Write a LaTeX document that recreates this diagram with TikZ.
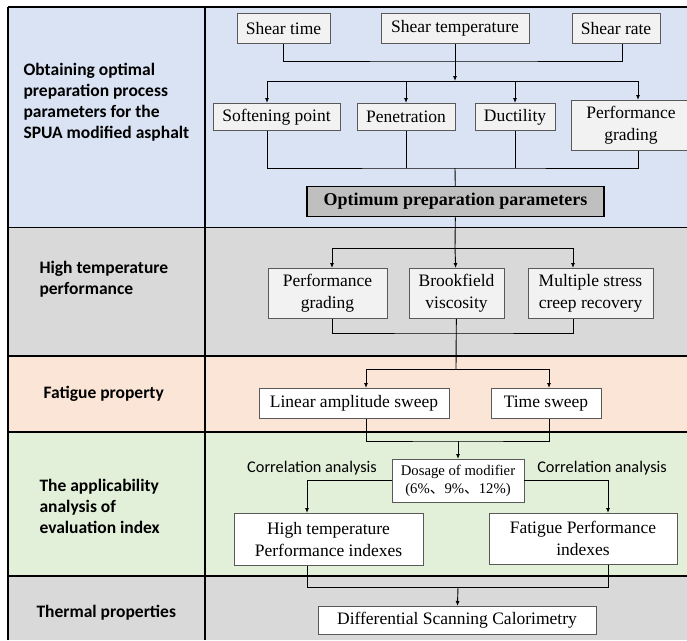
\documentclass[tikz,border=0pt]{standalone}
\usepackage{fontspec}
\setmainfont{Liberation Serif}
\setsansfont{Carlito}
\newfontfamily\cjk{Noto Sans CJK SC}
\usetikzlibrary{arrows.meta}
\definecolor{rowblue}{HTML}{DAE3F3}
\definecolor{rowgray}{HTML}{D9D9D9}
\definecolor{rowpeach}{HTML}{FBE5D6}
\definecolor{rowgreen}{HTML}{E2F0D9}
\definecolor{boxgray}{HTML}{F2F2F2}
\begin{document}
\begin{tikzpicture}[x=1pt,y=-1pt,
     box/.style={draw=black!65,line width=0.8pt,fill=white,anchor=north,align=center,inner sep=1pt,
       font=\fontsize{17.5}{22}\selectfont},
     lbox/.style={box,fill=boxgray},
     rowlabel/.style={anchor=west,align=left,font=\sffamily\bfseries\fontsize{17.5}{21}\selectfont},
     note/.style={font=\sffamily\fontsize{16.3}{18}\selectfont},
     link/.style={line width=0.9pt},
     >={Latex[length=5pt,width=4pt]}]
     \useasboundingbox (0,0) rectangle (687,640);
     \fill[rowblue] (8,7) rectangle (687,227.5);
     \fill[rowgray] (8,227.5) rectangle (687,356);
     \fill[rowpeach] (8,356) rectangle (687,432);
     \fill[rowgreen] (8,432) rectangle (687,576);
     \fill[rowgray] (8,576) rectangle (687,640);
     \node[rowlabel] (r1) at (20,102)
       {Obtaining optimal\\preparation process\\parameters for the\\SPUA modified asphalt};
     \node[rowlabel] (r2) at (36,279) {High temperature\\performance};
     \node[rowlabel] (r3) at (40,394) {Fatigue property};
     \node[rowlabel] (r4) at (36,506) {The applicability\\analysis of\\evaluation index};
     \node[rowlabel] (r5) at (33,613) {Thermal properties};
     \node[lbox,minimum width=93pt,minimum height=30pt] (st) at (283.5,13) {Shear time};
     \node[lbox,minimum width=148pt,minimum height=30pt] (stp) at (455,13) {Shear temperature};
     \node[lbox,minimum width=88pt,minimum height=30pt] (sr) at (616,13) {Shear rate};
     \node[lbox,minimum width=127pt,minimum height=27pt] (sp) at (276.5,103) {Softening point};
     \node[lbox,minimum width=98pt,minimum height=27pt] (pen) at (406,103) {Penetration};
     \node[lbox,minimum width=80pt,minimum height=27pt] (duc) at (515,103) {Ductility};
     \node[lbox,minimum width=120pt,minimum height=50pt] (pg1) at (631,100) {Performance\\grading};
     \node[box,fill=black!25,line width=1.3pt,draw=black,minimum width=297pt,minimum height=30pt,
       font=\bfseries\fontsize{18}{20}\selectfont] (opt) at (455.5,186) {Optimum preparation parameters};
     \node[lbox,minimum width=119pt,minimum height=50pt] (pg2) at (327.5,268) {Performance\\grading};
     \node[lbox,minimum width=95pt,minimum height=50pt] (bv) at (456.5,268) {Brookfield\\viscosity};
     \node[lbox,minimum width=125pt,minimum height=50pt] (ms) at (590.5,268) {Multiple stress\\creep recovery};
     \node[box,minimum width=190pt,minimum height=30pt] (las) at (354,388) {Linear amplitude sweep};
     \node[box,minimum width=110pt,minimum height=30pt] (ts) at (546,388) {Time sweep};
     \node[box,minimum width=132pt,minimum height=43pt,font=\fontsize{14.7}{18}\selectfont] (dos) at (458,459)
       {Dosage of modifier\\(6\%{\cjk 、}9\%{\cjk 、}12\%)};
     \node[box,minimum width=189pt,minimum height=52pt] (hti) at (328.5,513) {High temperature\\Performance indexes};
     \node[box,minimum width=188pt,minimum height=51pt] (fpi) at (583,513) {Fatigue Performance\\indexes};
     \node[box,minimum width=278pt,minimum height=28pt] (dsc) at (457,606) {Differential Scanning Calorimetry};
     \node[note] (ca1) at (312,468) {Correlation analysis};
     \node[note] (ca2) at (602,468) {Correlation analysis};
     \foreach \y in {7,227.5,356,432,576}
       \draw[line width=1.4pt] (8,\y) -- (687,\y);
     \foreach \x in {8,205}
       \draw[line width=1.4pt] (\x,7) -- (\x,640);
     \coordinate (j1) at (455,61);
     \coordinate (j2) at (455,81);
     \coordinate (j3) at (455,168);
     \coordinate (j4) at (455,248);
     \coordinate (j5) at (455,333);
     \coordinate (j6) at (456,369);
     \coordinate (j7) at (458,441);
     \coordinate (j8) at (458,587);
     \draw[link] (st) |- (j1) -| ([xshift=6pt]sr.south);
     \draw[link] (stp) -- (j1);
     \draw[link,->] (j1) -- (j2);
     \draw[link,->] (j2) -| ([xshift=-9.5pt]sp.north);
     \draw[link,->] (j2) -| (pen);
     \draw[link,->] (j2) -| (duc);
     \draw[link,->] (j2) -| ([xshift=7pt]pg1.north);
     \draw[link] ([xshift=-9.5pt]sp.south) |- (j3) -| ([xshift=7pt]pg1.south);
     \draw[link] (pen) -- (pen |- j3);
     \draw[link] (duc) -- (duc |- j3);
     \draw[link] (j3) -- (opt);
     \draw[link] (opt) -- (j4);
     \draw[link,->] (j4) -| ([xshift=4.5pt]pg2.north);
     \draw[link,->] (j4) -- (bv);
     \draw[link,->] (j4) -| ([xshift=-17.5pt]ms.north);
     \draw[link] ([xshift=4.5pt]pg2.south) |- (j5) -| ([xshift=-17.5pt]ms.south);
     \draw[link] (bv) -- (j6);
     \draw[link,->] (j6) -| ([xshift=12pt]las.north);
     \draw[link,->] (j6) -| ([xshift=3pt]ts.north);
     \draw[link] ([xshift=12pt]las.south) |- (j7) -| ([xshift=3pt]ts.south);
     \draw[link,->] (j7) -- (dos);
     \draw[link,->] (dos) -| ([xshift=-21.5pt]hti.north);
     \draw[link,->] (dos) -| ([xshift=25pt]fpi.north);
     \draw[link] ([xshift=-21.5pt]hti.south) |- (j8) -| ([xshift=25pt]fpi.south);
     \draw[link,->] (j8) -- (dsc);
   \end{tikzpicture}
\end{document}
